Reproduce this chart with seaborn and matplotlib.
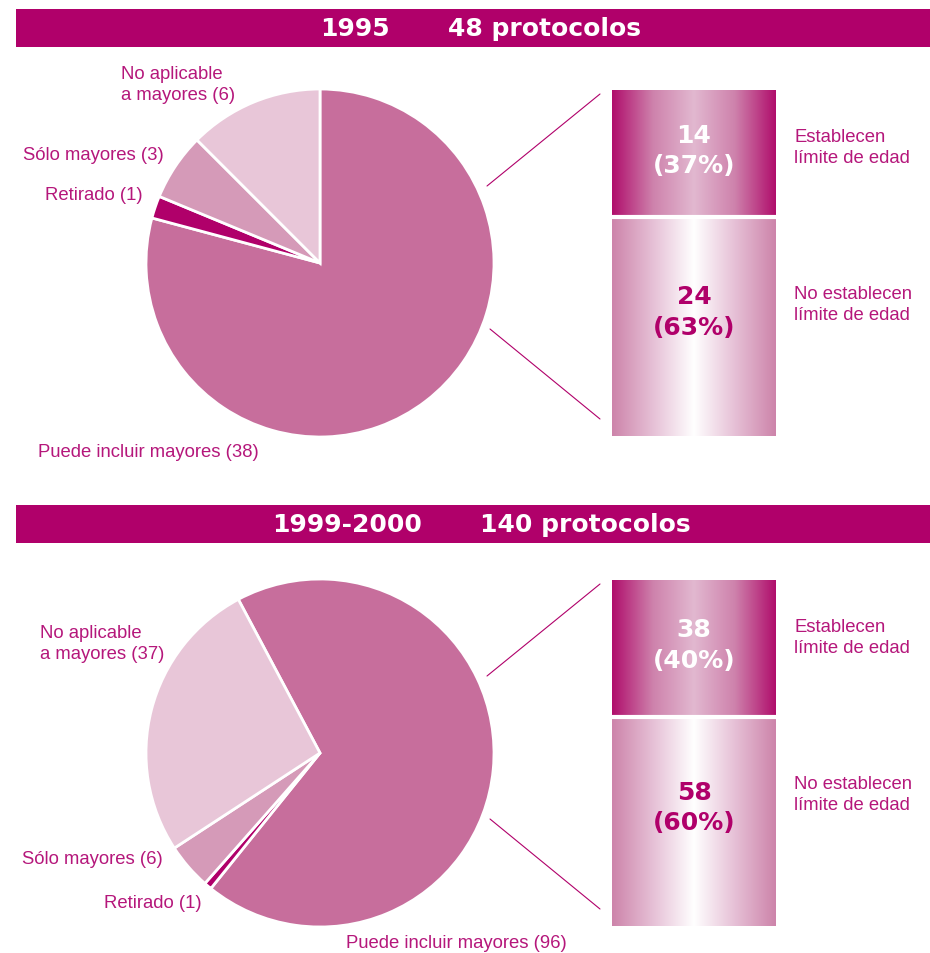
import numpy as np
import matplotlib
matplotlib.use("Agg")
import matplotlib.pyplot as plt
import seaborn as sns
from matplotlib.patches import Rectangle

# data
years = ["1995", "1999-2000"]
protocol_titles = ["48 protocolos", "140 protocolos"]
pie_labels = ["Puede incluir mayores", "Retirado", "Sólo mayores", "No aplicable\na mayores"]
pie_1995 = [38, 1, 3, 6]
pie_2000 = [96, 1, 6, 37]
limit_labels = ["Establecen\nlímite de edad", "No establecen\nlímite de edad"]
limit_1995 = [14, 24]
limit_2000 = [38, 58]

W, H = 930, 954
MAGENTA = "#B0006A"
TEXT = "#B5177B"
pie_colors = ["#C76E9C", MAGENTA, "#D59AB8", "#E8C6D8"]

sns.set_theme(style="white")
plt.rcParams['font.family'] = ['Liberation Sans', 'DejaVu Sans']

fig = plt.figure(figsize=(W / 100, H / 100), dpi=100)


def px_axes(x0, y0, w, h):
	return fig.add_axes([x0 / W, 1 - (y0 + h) / H, w / W, h / H])


bg = px_axes(0, 0, W, H)
bg.set_xlim(0, W)
bg.set_ylim(H, 0)
bg.axis("off")

# layout of each panel (pixels)
panel_top = [0, 490]
title_top = [10, 506]
year_right = [390, 422]
count_left = [448, 480]
pie_start = [90, 118]
label_pos = [
	[(38, 453), (45, 195), (23, 156), (121, 85)],
	[(346, 944), (104, 904), (22, 860), (40, 644)],
]
pies = [pie_1995, pie_2000]
limits = [limit_1995, limit_2000]

top_cmap = sns.blend_palette(["#B00E6C", "#CE82AC", "#E2B8D0", "#CE82AC", "#B00E6C"], as_cmap=True)
bot_cmap = sns.blend_palette(["#CD84AA", "#E6C0D6", "#FFFFFF", "#E6C0D6", "#CD84AA"], as_cmap=True)

for k in range(2):
	dy = panel_top[k]

	# title bar
	ty = title_top[k]
	bg.add_patch(Rectangle((16, ty), W - 16, 38, color=MAGENTA, lw=0))
	bg.text(year_right[k], ty + 19, years[k], color="white", fontsize=18, fontweight="bold",
		family="DejaVu Sans", ha="right", va="center")
	bg.text(count_left[k], ty + 19, protocol_titles[k], color="white", fontsize=18,
		fontweight="bold", family="DejaVu Sans", ha="left", va="center")

	# pie
	ax = px_axes(146, 90 + dy, 348, 348)
	ax.pie(pies[k], colors=pie_colors, startangle=pie_start[k], counterclock=False,
		wedgeprops=dict(edgecolor="white", linewidth=2.0))
	ax.set_xlim(-1.0, 1.0)
	ax.set_ylim(-1.0, 1.0)
	ax.axis("off")

	for lab, v, (x, y) in zip(pie_labels, pies[k], label_pos[k]):
		bg.text(x, y, f"{lab} ({v})", color=TEXT, fontsize=13.3, ha="left", va="center",
			linespacing=1.35)

	# connector lines
	bg.plot([487, 600], [187 + dy, 95 + dy], color=MAGENTA, lw=0.8)
	bg.plot([490, 600], [330 + dy, 420 + dy], color=MAGENTA, lw=0.8)

	# stacked bar with gradient
	vals = limits[k]
	total = sum(vals)
	bx = px_axes(612, 91 + dy, 164, 346)
	bars = bx.bar([0, 0], vals, bottom=[0, vals[0]], width=1, color="none", lw=0)
	grad = np.linspace(0, 1, 256).reshape(1, -1)
	for bar, cmap in zip(bars, [top_cmap, bot_cmap]):
		y0 = bar.get_y()
		im = bx.imshow(grad, cmap=cmap, aspect="auto",
			extent=[-0.5, 0.5, y0 + bar.get_height(), y0], zorder=1)
		im.set_clip_path(bar)
	bx.axhline(vals[0], color="white", lw=3, zorder=3)
	bx.set_xlim(-0.5, 0.5)
	bx.set_ylim(total, 0)
	bx.axis("off")

	pct = [round(100 * v / total) for v in vals]
	bx.text(0, vals[0] * 0.47, f"{vals[0]}\n({pct[0]}%)", color="white", fontsize=18,
		fontweight="bold", family="DejaVu Sans", ha="center", va="center", linespacing=1.35, zorder=4)
	bx.text(0, vals[0] + vals[1] * 0.43, f"{vals[1]}\n({pct[1]}%)", color=MAGENTA, fontsize=18,
		fontweight="bold", family="DejaVu Sans", ha="center", va="center", linespacing=1.35, zorder=4)

	bg.text(794, 148 + dy, limit_labels[0], color=TEXT, fontsize=13.3, ha="left", va="center",
		linespacing=1.25)
	bg.text(794, 305 + dy, limit_labels[1], color=TEXT, fontsize=13.3, ha="left", va="center",
		linespacing=1.25)

fig.savefig("out.png", dpi=100)
